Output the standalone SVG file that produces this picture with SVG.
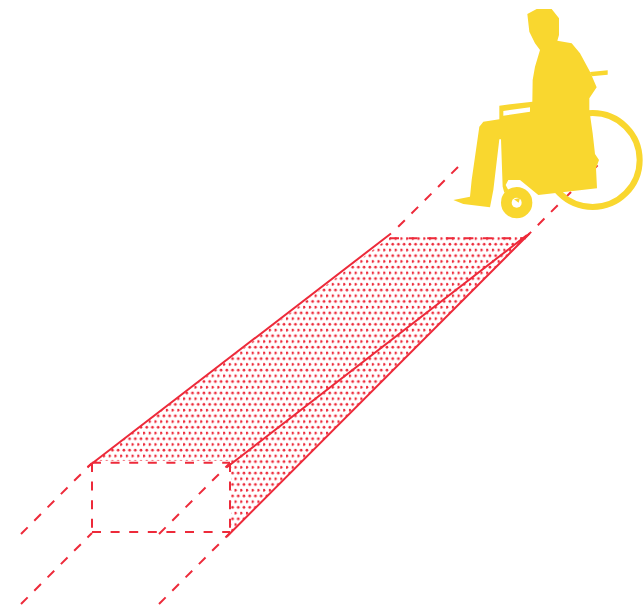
<svg xmlns="http://www.w3.org/2000/svg" width="643" height="612" viewBox="0 0 643 612">
<style>
.s{fill:none;stroke:#ed2a3a;stroke-width:2}
.d{fill:none;stroke:#ed2a3a;stroke-width:2;stroke-dasharray:9 9.6}
.g{fill:none;stroke:#ed2a3a;stroke-width:2;stroke-dasharray:9.4 9.4}
.y{fill:#f9d72f}
</style>
<defs>
<pattern id="dots" x="0" y="0" width="5.72" height="11.44" patternUnits="userSpaceOnUse">
<circle cx="3.74" cy="4.06" r="1.35" fill="#ed2a3a"/>
<circle cx="0.88" cy="9.78" r="1.35" fill="#ed2a3a"/>
</pattern>
</defs>
<g id="ramp">
<path d="M91 464L390 237L526 237L228 536L231 533V461L100 461Z" fill="url(#dots)"/>
</g>
<g id="connectors">
<path class="s" d="M87.5 467L391 233.5M529.5 233.5L226.7 536.7M226.5 467.5L527 235"/>
<path class="d" d="M390 238.3H526M92 462.7H230M92 463V532M230 463V532M92 532H230"/>
<path class="g" d="M21 534L92 463M21 604L92 533M159 534L230 463M159 604L230 533M458 167L391.5 233.5M524.5 238.5L600 163"/>
</g>
<g id="wheelchair-user" transform="translate(440 0) scale(0.33333)">
<circle cx="458" cy="480" r="141" fill="none" stroke="#f9d72f" stroke-width="18"/>
<path class="y" d="M503 211L450 216L455 229L503 224Z"/>
<path class="y" fill-rule="evenodd" d="M262 42L290 27L335 27L357 55L357 105L352 122L395 130L420 160L450 215L470 262L448 295L448 330L458 400L465 462L477 480L468 505L471 565L295 585L240 540L205 540L197 555L205 570L193 578L188 560L183 418L178 418L160 570L150 622L70 612L40 600L90 590L95 540L118 380L130 365L178 358L178 317L277 305L278 240L285 200L300 150L285 130L268 95ZM190 333L190 347L270 335L270 322Z"/>
<circle class="y" cx="230" cy="608" r="47"/>
<circle cx="230" cy="608" r="15" fill="#fff"/>
<path class="y" d="M222 598L240 594L236 608Z"/>
</g>
</svg>
